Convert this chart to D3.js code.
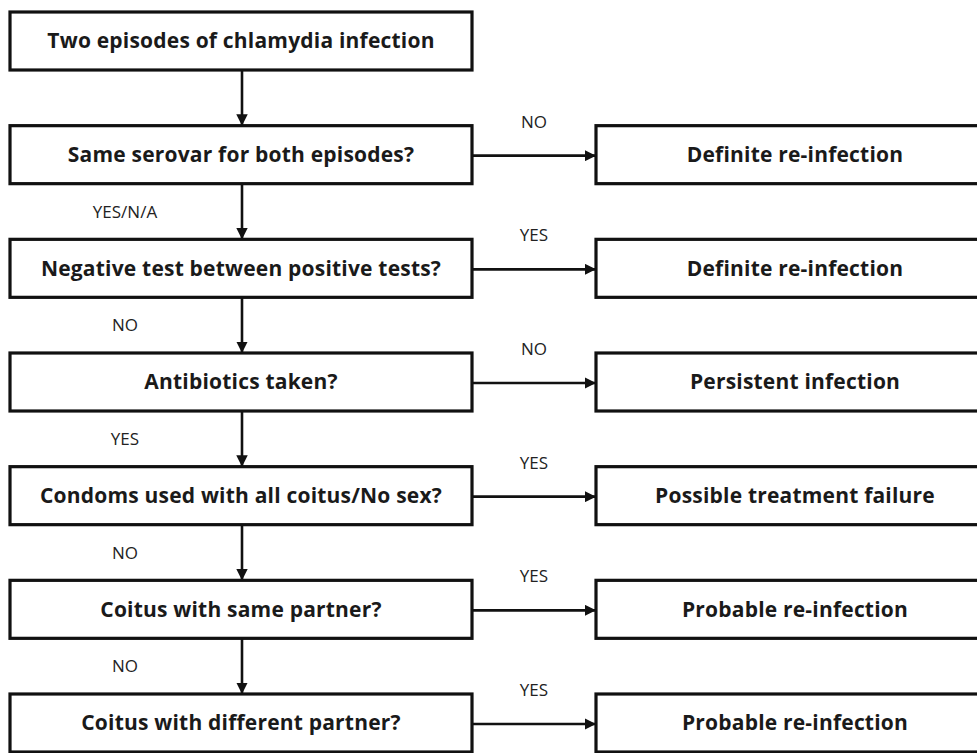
<!DOCTYPE html>
<html>
<head>
<meta charset="utf-8">
<script src="https://cdn.jsdelivr.net/npm/d3@7"></script>
<style>
  body { margin: 0; background: #fff; }
  .box { fill: #fff; stroke: #111; stroke-width: 3.2; }
  .box-text { font-family: "Open Sans", sans-serif; font-weight: bold; font-size: 21px; fill: #1a1a1a; letter-spacing: 0.2px; }
  .lbl { font-family: "Open Sans", sans-serif; font-size: 17px; fill: #222; }
  .arrow { stroke: #111; stroke-width: 2.6; fill: none; }
</style>
</head>
<body>
<div id="chart"></div>
<script>
// flowchart steps, top to bottom
var questions = [
  "Two episodes of chlamydia infection",
  "Same serovar for both episodes?",
  "Negative test between positive tests?",
  "Antibiotics taken?",
  "Condoms used with all coitus/No sex?",
  "Coitus with same partner?",
  "Coitus with different partner?"
];
// outcome on the right for each step (null = none)
var outcomes = [
  null,
  "Definite re-infection",
  "Definite re-infection",
  "Persistent infection",
  "Possible treatment failure",
  "Probable re-infection",
  "Probable re-infection"
];
// label on the sideways arrow
var sideLabels = [null, "NO", "YES", "NO", "YES", "YES", "YES"];
// label on the down arrow leaving each step
var downLabels = [null, "YES/N/A", "NO", "YES", "NO", "NO", null];

var width = 977, height = 753;
var boxH = 58;

var svg = d3.select("#chart").append("svg")
    .attr("width", width)
    .attr("height", height);

svg.append("defs").append("marker")
    .attr("id", "head")
    .attr("viewBox", "0 -5 10 10")
    .attr("refX", 10)
    .attr("refY", 0)
    .attr("markerWidth", 4.4)
    .attr("markerHeight", 4.4)
    .attr("markerUnits", "strokeWidth")
    .attr("orient", "auto")
  .append("path")
    .attr("d", "M0,-5L10,0L0,5Z")
    .attr("fill", "#111");

// row index -> top of box
var y = d3.scalePoint()
    .domain(d3.range(questions.length))
    .range([12, 694]);

// columns: left question boxes, right outcome boxes
var x = d3.scaleOrdinal()
    .domain(["left", "right"])
    .range([10, 596]);
var boxW = { left: 462, right: 398 };

var rows = questions.map(function(q, i) {
  return { i: i, q: q, out: outcomes[i], side: sideLabels[i], down: downLabels[i] };
});

// down arrows between consecutive question boxes
var midX = x("left") + boxW.left / 2 + 1;
svg.append("g").selectAll("line")
  .data(rows.slice(0, -1))
  .enter().append("line")
    .attr("class", "arrow")
    .attr("x1", midX)
    .attr("x2", midX)
    .attr("y1", function(d) { return y(d.i) + boxH; })
    .attr("y2", function(d) { return y(d.i + 1); })
    .attr("marker-end", "url(#head)");

// side arrows
var side = rows.filter(function(d) { return d.out; });
svg.append("g").selectAll("line")
  .data(side)
  .enter().append("line")
    .attr("class", "arrow")
    .attr("x1", x("left") + boxW.left)
    .attr("x2", x("right"))
    .attr("y1", function(d) { return y(d.i) + boxH / 2 + 1; })
    .attr("y2", function(d) { return y(d.i) + boxH / 2 + 1; })
    .attr("marker-end", "url(#head)");

// question boxes
var left = svg.append("g").selectAll("g")
  .data(rows)
  .enter().append("g")
    .attr("transform", function(d) { return "translate(" + x("left") + "," + y(d.i) + ")"; });
left.append("rect")
    .attr("class", "box")
    .attr("width", boxW.left)
    .attr("height", boxH);
left.append("text")
    .attr("class", "box-text")
    .attr("x", boxW.left / 2)
    .attr("y", boxH / 2)
    .attr("dy", "0.35em")
    .attr("text-anchor", "middle")
    .text(function(d) { return d.q; });

// outcome boxes
var right = svg.append("g").selectAll("g")
  .data(side)
  .enter().append("g")
    .attr("transform", function(d) { return "translate(" + x("right") + "," + y(d.i) + ")"; });
right.append("rect")
    .attr("class", "box")
    .attr("width", boxW.right)
    .attr("height", boxH);
right.append("text")
    .attr("class", "box-text")
    .attr("x", boxW.right / 2)
    .attr("y", boxH / 2)
    .attr("dy", "0.35em")
    .attr("text-anchor", "middle")
    .text(function(d) { return d.out; });

// labels on side arrows
svg.append("g").selectAll("text")
  .data(side)
  .enter().append("text")
    .attr("class", "lbl")
    .attr("x", 534)
    .attr("y", function(d) { return y(d.i) + 2; })
    .attr("text-anchor", "middle")
    .text(function(d) { return d.side; });

// labels on down arrows
svg.append("g").selectAll("text")
  .data(rows.filter(function(d) { return d.down; }))
  .enter().append("text")
    .attr("class", "lbl")
    .attr("x", 125)
    .attr("y", function(d) { return (y(d.i) + boxH + y(d.i + 1)) / 2 + 6; })
    .attr("text-anchor", "middle")
    .text(function(d) { return d.down; });
</script>
</body>
</html>
